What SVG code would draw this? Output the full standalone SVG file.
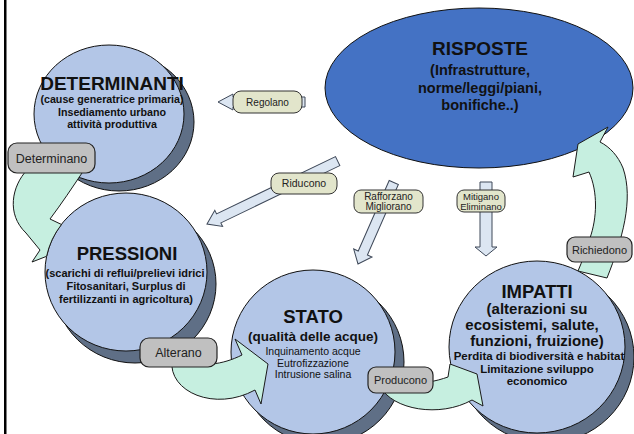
<svg xmlns="http://www.w3.org/2000/svg" width="634" height="434" viewBox="0 0 634 434">
<style>
text{font-family:"Liberation Sans",Arial,sans-serif;text-anchor:middle;fill:#111}
.b{font-weight:bold}
.front{fill:#b3c6e7;stroke:#111;stroke-width:1}
.shadow{fill:#5f6f86;stroke:#111;stroke-width:1}
.band{fill:#c6efe0;stroke:#1a1a1a;stroke-width:1;stroke-linejoin:miter}
.sarrow{fill:#dce6f2;stroke:#3e4858;stroke-width:1}
.glab{fill:#c0c0c0;stroke:#222;stroke-width:1.2}
.blab{fill:#e2e5cb;stroke:#333;stroke-width:1}
.lt{fill:#222}
</style>
<rect width="634" height="434" fill="#fff"/>
<rect x="4" y="0" width="2.5" height="434" fill="#000"/>

<g id="node-determinanti">
<ellipse class="shadow" cx="119" cy="122" rx="75" ry="69"/>
<ellipse class="front" cx="109" cy="114" rx="75" ry="69"/>
<text class="b" x="112" y="90" font-size="19">DETERMINANTI</text>
<text class="b" x="112" y="103" font-size="10.7">(cause generatrice primaria)</text>
<text class="b" x="112" y="115.5" font-size="10.7">Insediamento urbano</text>
<text class="b" x="112" y="128" font-size="10.7">attività produttiva</text>
</g>

<g id="node-risposte">
<ellipse cx="479" cy="88" rx="154" ry="80" fill="#4472c4" stroke="#111" stroke-width="1"/>
<text class="b" x="480" y="55" font-size="19">RISPOSTE</text>
<text class="b" x="480" y="75" font-size="14.5">(Infrastrutture,</text>
<text class="b" x="480" y="92.5" font-size="14.5">norme/leggi/piani,</text>
<text class="b" x="480" y="110" font-size="14.5">bonifiche..)</text>
</g>

<g id="node-pressioni">
<ellipse class="shadow" cx="135" cy="284" rx="81" ry="79"/>
<ellipse class="front" cx="126" cy="272" rx="81" ry="79"/>
<text class="b" x="127" y="260" font-size="18.5">PRESSIONI</text>
<text class="b" x="125" y="277" font-size="11">(scarichi di reflui/prelievi idrici</text>
<text class="b" x="126" y="290" font-size="11">Fitosanitari, Surplus di</text>
<text class="b" x="126" y="302.5" font-size="11">fertilizzanti in agricoltura)</text>
</g>

<g id="node-stato">
<ellipse class="shadow" cx="322" cy="362" rx="82" ry="82"/>
<ellipse class="front" cx="313" cy="352" rx="82" ry="82"/>
<text class="b" x="313" y="323" font-size="18.5">STATO</text>
<text class="b" x="313" y="341" font-size="13.5">(qualità delle acque)</text>
<text x="313" y="355" font-size="10.5">Inquinamento acque</text>
<text x="313" y="366.5" font-size="10.5">Eutrofizzazione</text>
<text x="313" y="378" font-size="10.5">Intrusione salina</text>
</g>

<g id="node-impatti">
<ellipse class="shadow" cx="546" cy="357" rx="88" ry="86"/>
<ellipse class="front" cx="537" cy="347" rx="88" ry="86"/>
<text class="b" x="537" y="298" font-size="18.5">IMPATTI</text>
<text class="b" x="537" y="314" font-size="15">(alterazioni su</text>
<text class="b" x="532" y="330" font-size="15">ecosistemi, salute,</text>
<text class="b" x="537" y="346" font-size="15">funzioni, fruizione)</text>
<text class="b" x="539" y="360" font-size="11.5">Perdita di biodiversità e habitat</text>
<text class="b" x="537" y="373" font-size="11.5">Limitazione sviluppo</text>
<text class="b" x="537" y="385" font-size="11.5">economico</text>
</g>

<g id="connectors">
<path class="band" d="M27,170 C12,186 6,214 26,233 L40,250 L32,262 L46.6,256.3 A81 79 0 0 1 61.5,224.5 L50,219 C62,203 72,188 84,170 Z"/>
<path class="band" d="M172,360 C168,392 215,412 255,390 L261,404 L268,364 L235,339 L242,355 C232,360 222,363 212,364 Z"/>
<path class="band" d="M380,386 C392,410 440,418 472,400 L483,406 L477,374 L450,364 L448,377 C442,379 436,381 428,382 Z"/>
<path class="band" d="M578,271 L607,278 C622,240 634,200 623,168 C618,156 610,147 600,142 L608,127 L578,144 L573,177 L589,172 C598,192 597,218 590,238 C586,250 582,262 578,271 Z"/>

<polygon class="sarrow" transform="translate(218,102)" points="0,0 15,-8 15,-5 87,-5 87,5 15,5 15,8"/>
<polygon class="sarrow" transform="translate(207,224) rotate(-25.7)" points="0,0 13,-9 13,-5 145,-5 145,5 13,5 13,9"/>
<polygon class="sarrow" transform="translate(358,264) rotate(-66.3)" points="0,0 12,-10 12,-5 89,-5 89,5 12,5 12,10"/>
<polygon class="sarrow" transform="translate(486,256) rotate(-90)" points="0,0 9,-11 9,-6 74,-6 74,6 9,6 9,11"/>

<rect class="glab" x="8" y="143" width="87" height="30" rx="9"/>
<text class="lt" x="51.5" y="163" font-size="12.5">Determinano</text>
<rect class="glab" x="140" y="338" width="77" height="29" rx="9"/>
<text class="lt" x="178.5" y="357" font-size="12.5">Alterano</text>
<rect class="glab" x="368" y="367" width="65" height="26" rx="8"/>
<text class="lt" x="400.5" y="384" font-size="11">Producono</text>
<rect class="glab" x="567" y="237" width="65" height="25" rx="8"/>
<text class="lt" x="599.5" y="253.5" font-size="11">Richiedono</text>

<rect class="blab" x="233" y="91" width="69" height="22" rx="8"/>
<text class="lt" x="267.5" y="105.5" font-size="10">Regolano</text>
<rect class="blab" x="271" y="173" width="66" height="21" rx="8"/>
<text class="lt" x="304" y="187" font-size="10.5">Riducono</text>
<rect class="blab" x="354" y="190" width="69" height="23" rx="7"/>
<text class="lt" x="388.5" y="199.5" font-size="10">Rafforzano</text>
<text class="lt" x="388.5" y="210" font-size="10">Migliorano</text>
<rect class="blab" x="457" y="190" width="48" height="22" rx="7"/>
<text class="lt" x="481" y="199.5" font-size="9.5">Mitigano</text>
<text class="lt" x="481" y="210" font-size="9.5">Eliminano</text>
</g>
</svg>
